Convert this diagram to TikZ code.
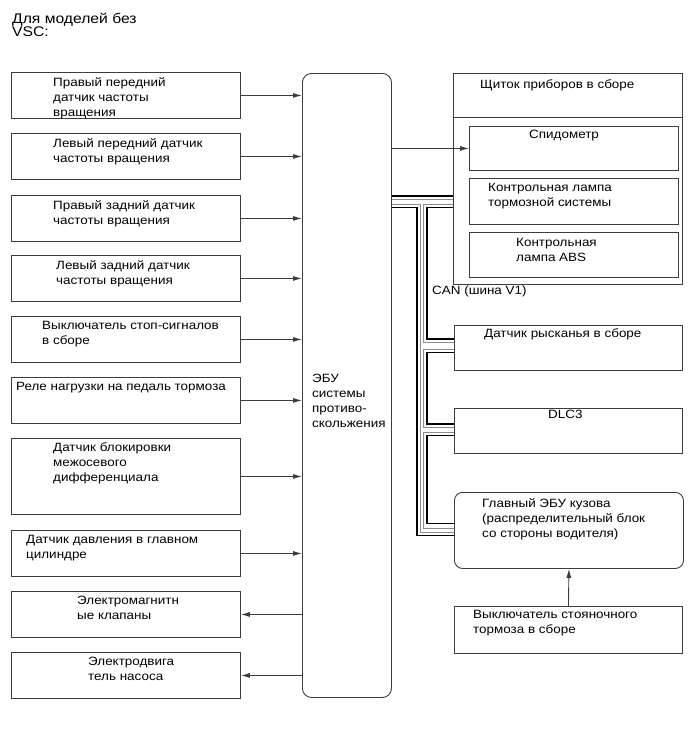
\documentclass[tikz,border=0pt]{standalone}
\usepackage{fontspec}
\setmainfont{Liberation Sans}[FakeStretch=1.12]
\usetikzlibrary{arrows.meta, positioning}
\definecolor{edge}{HTML}{3C3C3C}
\definecolor{wire}{HTML}{8C8C8C}
\tikzset{
  box/.style={rectangle, draw=edge, line width=0.9pt, minimum width=229pt,
              minimum height=46pt, anchor=north west, inner sep=0pt},
  rbox/.style={box, rounded corners=8pt},
  txt/.style={anchor=north west, align=left, inner sep=0pt,
              font=\fontsize{12}{15}\selectfont},
  arr/.style={-{Latex[length=9pt, width=5pt]}, line width=0.9pt, draw=edge},
  busk/.style={line width=1.9pt, black},
  busg/.style={line width=0.9pt, wire},
}

\begin{document}
\begin{tikzpicture}[x=1pt, y=-1pt]
  \useasboundingbox (0,0) rectangle (690,756);
  \node[txt, font=\fontsize{14}{13}\selectfont] (title) at (12,13) {Для моделей без\\VSC:};

  % left column
  \node[box] (s1) at (11,72) {};
  \node[box] (s2) at (11,133) {};
  \node[box] (s3) at (11,195) {};
  \node[box] (s4) at (11,255) {};
  \node[box] (s5) at (11,316) {};
  \node[box] (s6) at (11,377) {};
  \node[box, minimum height=76pt] (s7) at (11,438) {};
  \node[box] (s8) at (11,530) {};
  \node[box] (s9) at (11,591) {};
  \node[box] (s10) at (11,652) {};

  \node[txt, below right=5pt and 42pt of s1.north west] (s1t) {Правый передний\\датчик частоты\\вращения};
  \node[txt, below right=5pt and 42pt of s2.north west] (s2t) {Левый передний датчик\\частоты вращения};
  \node[txt, below right=5pt and 42pt of s3.north west] (s3t) {Правый задний датчик\\частоты вращения};
  \node[txt, below right=5pt and 45pt of s4.north west] (s4t) {Левый задний датчик\\частоты вращения};
  \node[txt, below right=5pt and 31pt of s5.north west] (s5t) {Выключатель стоп-сигналов\\в сборе};
  \node[txt, below right=5pt and 5pt of s6.north west] (s6t) {Реле нагрузки на педаль тормоза};
  \node[txt, below right=4pt and 42pt of s7.north west] (s7t) {Датчик блокировки\\межосевого\\дифференциала};
  \node[txt, below right=5pt and 15pt of s8.north west] (s8t) {Датчик давления в главном\\цилиндре};
  \node[txt, below right=5pt and 66pt of s9.north west] (s9t) {Электромагнитн\\ые клапаны};
  \node[txt, below right=5pt and 77pt of s10.north west] (s10t) {Электродвига\\тель насоса};

  % ECU
  \node[rbox, minimum width=89pt, minimum height=624pt, rounded corners=9pt] (ecu) at (302,73) {};
  \node[txt] (ecut) at (312,374) {ЭБУ\\системы\\противо-\\скольжения};

  % right column
  \node[box, minimum height=211pt] (clu) at (453,73) {};
  \draw[draw=edge, line width=0.9pt] (clu.west |- 0,117) -- (clu.east |- 0,117);
  \node[box, minimum width=209pt, minimum height=44pt] (spd) at (469,126) {};
  \node[box, minimum width=209pt] (lamp) at (469,178) {};
  \node[box, minimum width=209pt, minimum height=45pt] (abs) at (469,232) {};
  \node[box, minimum width=228pt, minimum height=45pt] (yaw) at (454,325) {};
  \node[box, minimum width=228pt, minimum height=45pt] (dlc) at (454,408) {};
  \node[rbox, minimum height=76pt] (body) at (454,492) {};
  \node[box, minimum width=228pt, minimum height=47pt] (park) at (454,606) {};

  \node[txt, below right=6pt and 27pt of clu.north west] (clut) {Щиток приборов в сборе};
  \node[txt, below right=4pt and 60pt of spd.north west] (spdt) {Спидометр};
  \node[txt, below right=5pt and 19pt of lamp.north west] (lampt) {Контрольная лампа\\тормозной системы};
  \node[txt, below right=6pt and 47pt of abs.north west] (abst) {Контрольная\\лампа ABS};
  \node[txt, below right=3pt and 30pt of yaw.north west] (yawt) {Датчик рысканья в сборе};
  \node[txt, below right=2pt and 94pt of dlc.north west] (dlct) {DLC3};
  \node[txt, below right=6pt and 28pt of body.north west] (bodyt) {Главный ЭБУ кузова\\(распределительный блок\\со стороны водителя)};
  \node[txt, below right=4pt and 19pt of park.north west] (parkt) {Выключатель стояночного\\тормоза в сборе};
  \node[txt, anchor=west] (can) at (432,291) {CAN (шина V1)};

  % signals
  \draw[arr] (s1.east) -- (s1.east -| ecu.west);
  \draw[arr] (s2.east) -- (s2.east -| ecu.west);
  \draw[arr] (s3.east) -- (s3.east -| ecu.west);
  \draw[arr] (s4.east) -- (s4.east -| ecu.west);
  \draw[arr] (s5.east) -- (s5.east -| ecu.west);
  \draw[arr] (s6.east) -- (s6.east -| ecu.west);
  \draw[arr] (s7.east) -- (s7.east -| ecu.west);
  \draw[arr] (s8.east) -- (s8.east -| ecu.west);
  \draw[arr] (s9.east -| ecu.west) -- (s9.east);
  \draw[arr] (s10.east -| ecu.west) -- (s10.east);
  \draw[arr] (ecu.east |- spd.west) -- (spd.west);
  \draw[arr] (park.north) -- (body.south);

  % CAN bus
  \draw[busk] (ecu.east |- 0,196) -- (clu.west |- 0,196);
  \draw[busg] (ecu.east |- 0,199.5) -- (clu.west |- 0,199.5);
  \draw[busg] (ecu.east |- 0,204) -| (420.5,532) -- (body.west |- 0,532);
  \draw[busk] (ecu.east |- 0,207.5) -| (417,535.5) -- (body.west |- 0,535.5);
  \draw[busg] (clu.west |- 0,204) -| (423.5,342) -- (yaw.west |- 0,342);
  \draw[busk] (clu.west |- 0,207.5) -| (427,339) -- (yaw.west |- 0,339);
  \draw[busg] (yaw.west |- 0,349) -| (423.5,427) -- (dlc.west |- 0,427);
  \draw[busk] (yaw.west |- 0,352.5) -| (427,424) -- (dlc.west |- 0,424);
  \draw[busg] (dlc.west |- 0,432) -| (423.5,528) -- (body.west |- 0,528);
  \draw[busk] (dlc.west |- 0,435.5) -| (427,523.5) -- (body.west |- 0,523.5);
\end{tikzpicture}
\end{document}
